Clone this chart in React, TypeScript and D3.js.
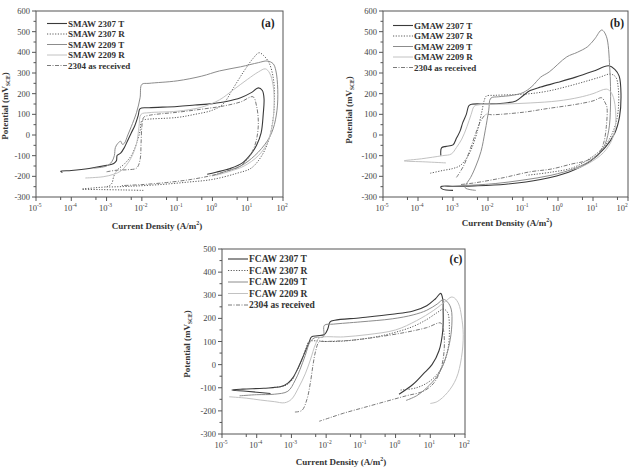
import React from "react";
import * as d3 from "d3";

type Pt = [number, number]; // [current density A/m2, potential mV]

// ---- (a) SMAW ----
const smaw2307T: Pt[] = [
  [5.6e-5, -182], [5e-5, -176], [1e-4, -172], [3.2e-4, -162], [1e-3, -147], [1.6e-3, -138],
  [1.9e-3, -125], [2e-3, -98], [2.5e-3, -88], [3.2e-3, -60], [4e-3, -25], [5e-3, 10],
  [6.3e-3, 45], [7.9e-3, 95], [8.9e-3, 128], [1.6e-2, 132], [0.1, 138], [0.32, 145],
  [1, 152], [2.5, 162], [6.3, 180], [12.6, 205], [20, 228], [26, 215], [29, 175],
  [27.5, 100], [24, 10], [17.8, -50], [12.6, -90], [7.1, -135], [3.2, -162], [1.26, -180], [0.71, -190],
];
const smaw2307R: Pt[] = [
  [1.1e-2, -268], [3.2e-3, -266], [6.3e-4, -264], [2e-4, -262], [5e-4, -255], [1.1e-3, -248],
  [1.4e-3, -235], [1.6e-3, -200], [2e-3, -170], [3.2e-3, -140], [5e-3, -100], [7.1e-3, -40],
  [8.9e-3, 20], [1e-2, 70], [1.26e-2, 75], [0.1, 85], [0.32, 100], [1, 120], [2, 150],
  [4, 230], [7.9, 310], [14.1, 370], [21, 398], [28, 385], [40, 350], [52.5, 280],
  [57.5, 180], [52.5, 80], [40, -20], [25, -100], [12.6, -160], [5, -185], [1, -215],
  [0.2, -228], [3.2e-2, -240], [5e-3, -248], [1e-3, -252],
];
const smaw2209T: Pt[] = [
  [4.5e-4, -160], [1e-3, -150], [1.4e-3, -130], [1.66e-3, -100], [1.78e-3, -60], [2.1e-3, -40],
  [2.5e-3, -30], [2.8e-3, -45], [3.2e-3, -40], [4e-3, 0], [5e-3, 40], [7.1e-3, 110],
  [8.9e-3, 180], [1e-2, 245], [1.6e-2, 250], [0.1, 262], [0.5, 285], [1.58, 310], [6.3, 330],
  [20, 350], [35.5, 358], [52.5, 345], [63, 310], [71, 220], [67.6, 120], [52.5, 30],
  [35.5, -30], [15.8, -100], [6.3, -150], [2, -180], [1, -198],
];
const smaw2209R: Pt[] = [
  [2.5e-4, -208], [8e-4, -202], [1.6e-3, -190], [2.5e-3, -175], [3.5e-3, -150], [5e-3, -110],
  [7.1e-3, -40], [8.3e-3, 40], [9.5e-3, 100], [1.6e-2, 108], [0.1, 115], [0.5, 135],
  [1.58, 170], [4, 220], [10, 270], [20, 305], [31.6, 320], [41.7, 300], [52.5, 240],
  [56, 150], [50, 50], [35.5, -40], [20, -100], [7.9, -150], [3.2, -175], [1.26, -195],
];
const smaw2304: Pt[] = [
  [1e-3, -178], [2e-3, -170], [4e-3, -168], [7.1e-3, -160], [8.9e-3, -120], [9.5e-3, -40],
  [1e-2, 40], [1.12e-2, 85], [1.6e-2, 95], [0.1, 110], [0.5, 125], [2, 140], [6.3, 160],
  [14.1, 185], [17.8, 140], [20, 60], [17.8, -20], [12.6, -90], [6.3, -150], [2.5, -175],
  [1, -195], [0.25, -215], [5e-2, -230], [1e-2, -240], [2.5e-3, -245],
];

// ---- (b) GMAW ----
const gmaw2307T: Pt[] = [
  [4.5e-4, -100], [4.7e-4, -62], [6.3e-4, -55], [1e-3, -48], [1.26e-3, -15], [1.6e-3, 20],
  [1.9e-3, 60], [2.4e-3, 100], [2.8e-3, 140], [3.2e-3, 148], [1e-2, 150], [3.2e-2, 155],
  [6.3e-2, 165], [0.1, 190], [0.16, 215], [0.32, 232], [1, 255], [3.2, 280], [10, 308],
  [28, 335], [42, 318], [56, 285], [63, 200], [57.5, 90], [42, 10], [22.4, -60], [7.9, -130],
  [2, -180], [0.32, -215], [3.2e-2, -238], [4e-3, -246], [1e-3, -248], [4.5e-4, -250],
  [5e-4, -262], [1e-3, -268],
];
const gmaw2307R: Pt[] = [
  [2.24e-4, -185], [5e-4, -172], [1e-3, -162], [1.6e-3, -148], [2.5e-3, -110], [3.5e-3, -60],
  [5e-3, 20], [6.6e-3, 110], [7.9e-3, 170], [8.9e-3, 188], [1.6e-2, 192], [5e-2, 195],
  [0.16, 200], [0.5, 212], [1.58, 232], [5, 255], [15.8, 280], [31.6, 295], [44.7, 280],
  [52.5, 230], [52.5, 120], [40, 30], [22.4, -50], [7.9, -115], [2.5, -160], [0.63, -180], [0.126, -195],
];
const gmaw2209T: Pt[] = [
  [4.5e-3, -268], [2.24e-3, -256], [2.4e-3, -238], [3.2e-3, -205], [4.5e-3, -150], [6.3e-3, -80],
  [8.3e-3, 20], [1.05e-2, 120], [1.2e-2, 178], [2e-2, 185], [5e-2, 192], [0.1, 205],
  [0.18, 235], [0.32, 280], [0.56, 305], [1.78, 378], [3.55, 400], [7.1, 428], [11.2, 465],
  [17.8, 508], [24, 478], [30, 330], [31.6, 140], [28, 20], [20, -60], [10, -115], [3.2, -160],
  [0.63, -195], [0.1, -218], [1.6e-2, -235], [3.2e-3, -243], [1.78e-3, -245],
];
const gmaw2209R: Pt[] = [
  [6.3e-4, -135], [1.6e-4, -130], [4e-5, -125], [1.26e-4, -115], [5e-4, -100], [8.9e-4, -92],
  [1.26e-3, -60], [1.78e-3, -20], [2.5e-3, 40], [3.3e-3, 100], [4e-3, 138], [5e-3, 145],
  [3.2e-2, 150], [0.16, 155], [1, 165], [4, 182], [10, 200], [24, 222], [31.6, 210],
  [40, 170], [44.7, 60], [35.5, -20], [20, -85], [7.9, -135], [3.2, -165],
];
const gmaw2304: Pt[] = [
  [1.26e-3, -205], [2e-3, -150], [3e-3, -75], [4.5e-3, 10], [6.3e-3, 70], [8.9e-3, 100],
  [1.26e-2, 98], [0.1, 110], [0.5, 128], [3.2, 148], [10, 165], [17.8, 180], [22.4, 155],
  [25, 135], [24, 40], [20, -40], [14.1, -92], [6.3, -125], [2.5, -140], [0.63, -165],
  [0.16, -178], [2.5e-2, -208], [4e-3, -232], [1.6e-3, -240],
];

// ---- (c) FCAW ----
const fcaw2307T: Pt[] = [
  [2.5e-4, -125], [5e-5, -115], [1.9e-5, -110], [4e-5, -106], [1.6e-4, -102], [5e-4, -95],
  [7.9e-4, -80], [1.12e-3, -55], [1.6e-3, -10], [2.24e-3, 40], [3.2e-3, 95], [3.8e-3, 120],
  [5.6e-3, 125], [8.9e-3, 130], [1.12e-2, 155], [1.3e-2, 185], [1.78e-2, 192], [0.1, 203],
  [0.8, 218], [3.2, 232], [7.9, 255], [14.1, 285], [20, 308], [23, 280], [23.4, 240],
  [23, 150], [17.8, 60], [11.2, 0], [6.3, -40], [3.2, -85], [1.26, -128],
];
const fcaw2307R: Pt[] = [
  [3.2e-4, -98], [6.3e-4, -92], [1e-3, -70], [1.4e-3, -30], [2e-3, 20], [2.6e-3, 70],
  [3.2e-3, 100], [5e-3, 103], [1e-2, 100], [3.2e-2, 102], [0.1, 110], [0.32, 122], [1, 140],
  [3.2, 165], [7.9, 195], [15.8, 225], [24, 240], [31.6, 225], [35.5, 150], [31.6, 60],
  [20, -20], [10, -70], [4, -100], [1.4, -110],
];
const fcaw2209T: Pt[] = [
  [3.2e-5, -135], [1e-4, -130], [3.2e-4, -128], [7.9e-4, -115], [1.26e-3, -70], [1.78e-3, -20],
  [2.5e-3, 40], [3.5e-3, 100], [5e-3, 118], [8.3e-3, 120], [8.9e-3, 170], [1.6e-2, 175],
  [0.1, 185], [0.8, 198], [3.2, 215], [7.9, 235], [15.8, 262], [24, 282], [31.6, 270],
  [40, 240], [41.7, 170], [35.5, 90], [25, 10], [15.8, -50], [7.9, -100], [4, -135], [2, -155],
];
const fcaw2209R: Pt[] = [
  [1.6e-5, -139], [5e-5, -145], [1.26e-4, -153], [3.2e-4, -160], [6.3e-4, -165], [1e-3, -150],
  [1.6e-3, -100], [2.5e-3, -40], [3.5e-3, 20], [5e-3, 90], [6.3e-3, 115], [3.2e-2, 120],
  [0.16, 130], [1, 150], [4, 190], [12.6, 235], [28, 275], [40, 292], [50, 288],
  [66, 262], [79, 210], [89, 130], [79, 30], [56, -60], [31.6, -120], [15.8, -160], [10, -168],
];
const fcaw2304: Pt[] = [
  [1.26e-3, -205], [2e-3, -198], [2.8e-3, -150], [3.5e-3, -80], [4.2e-3, 0], [5e-3, 60],
  [6.3e-3, 98], [1e-2, 100], [5e-2, 105], [0.32, 120], [2, 140], [7.9, 160], [20, 180],
  [24, 150], [25, 60], [20, -20], [12.6, -80], [6.3, -115], [2, -135], [0.5, -160],
  [0.126, -185], [3.2e-2, -210], [1.26e-2, -230], [6.3e-3, -245],
];

const labelsA = ["SMAW 2307 T", "SMAW 2307 R", "SMAW 2209 T", "SMAW 2209 R", "2304 as received"];
const labelsB = ["GMAW 2307 T", "GMAW 2307 R", "GMAW 2209 T", "GMAW 2209 R", "2304 as received"];
const labelsC = ["FCAW 2307 T", "FCAW 2307 R", "FCAW 2209 T", "FCAW 2209 R", "2304 as received"];

const styles = [
  { stroke: "#3a3a3a", dash: undefined as string | undefined, w: 1.1 },
  { stroke: "#5a5a5a", dash: "1.2,1.5", w: 1 },
  { stroke: "#8c8c8c", dash: undefined, w: 1 },
  { stroke: "#c2c2c2", dash: undefined, w: 1 },
  { stroke: "#7a7a7a", dash: "4,1.5,1,1.5", w: 1 },
];

const serif = "'Liberation Serif', 'DejaVu Serif', serif";
const W = 631;

interface PanelProps {
  id: string;
  left: number;
  right: number;
  top: number;
  bottom: number;
  yMax: number;
  series: Pt[][];
  labels: string[];
  letter: string;
  letterX: number;
  letterY: number;
  legX: number;
  legY: number;
  legStep: number;
  legSize: number;
  xTitleX: number;
  xTitleY: number;
  yTitleX: number;
  yTitleY: number;
}

function Panel(p: PanelProps) {
  const x = d3.scaleLog().domain([1e-5, 100]).range([p.left, p.right]);
  const y = d3.scaleLinear().domain([-300, p.yMax]).range([p.bottom, p.top]);
  const line = d3
    .line<Pt>()
    .x((d) => x(d[0]))
    .y((d) => y(d[1]))
    .curve(d3.curveCatmullRom.alpha(0.5));

  const allX = x.ticks();
  const majorX = allX.filter((v) => Math.abs(Math.log10(v) - Math.round(Math.log10(v))) < 1e-6);
  const minorX = allX.filter((v) => {
    const m = v / Math.pow(10, Math.floor(Math.log10(v) + 1e-9));
    return Math.abs(m - 5) < 1e-6;
  });
  const majorY = d3.range(-300, p.yMax + 1, 100);
  const minorY = d3.range(-250, p.yMax, 100);

  return (
    <g>
      <defs>
        <clipPath id={`clip-${p.id}`}>
          <rect x={p.left} y={p.top} width={p.right - p.left} height={p.bottom - p.top} />
        </clipPath>
      </defs>
      <rect x={p.left} y={p.top} width={p.right - p.left} height={p.bottom - p.top} fill="none" stroke="#555" strokeWidth={1} />
      {majorX.map((v) => (
        <g key={`mx${v}`}>
          <line x1={x(v)} x2={x(v)} y1={p.bottom} y2={p.bottom + 4} stroke="#555" />
          <text
            x={Math.min(x(v) - 1, W - 9)}
            y={p.bottom + 14}
            fontSize={8.5}
            fill="#444"
            fontFamily={serif}
            textAnchor="middle"
          >
            10
            <tspan fontSize={5.5} dy={-4}>
              {Math.round(Math.log10(v))}
            </tspan>
          </text>
        </g>
      ))}
      {minorX.map((v) => (
        <line key={`nx${v}`} x1={x(v)} x2={x(v)} y1={p.bottom} y2={p.bottom + 3} stroke="#555" />
      ))}
      {majorY.map((v) => (
        <g key={`my${v}`}>
          <line x1={p.left - 4} x2={p.left} y1={y(v)} y2={y(v)} stroke="#555" />
          <text x={p.left - 6} y={y(v) + 3} fontSize={8.5} fill="#444" fontFamily={serif} textAnchor="end">
            {v}
          </text>
        </g>
      ))}
      {minorY.map((v) => (
        <line key={`ny${v}`} x1={p.left - 2.5} x2={p.left} y1={y(v)} y2={y(v)} stroke="#555" />
      ))}
      <g clipPath={`url(#clip-${p.id})`}>
        {p.series.map((s, i) => (
          <path
            key={i}
            d={line(s) || ""}
            fill="none"
            stroke={styles[i].stroke}
            strokeWidth={styles[i].w}
            strokeDasharray={styles[i].dash}
          />
        ))}
      </g>
      {p.labels.map((lab, i) => {
        const ly = p.legY + i * p.legStep;
        return (
          <g key={lab}>
            <line
              x1={p.legX}
              x2={p.legX + 20}
              y1={ly - 3}
              y2={ly - 3}
              stroke={styles[i].stroke}
              strokeWidth={styles[i].w}
              strokeDasharray={styles[i].dash}
            />
            <text x={p.legX + 21} y={ly} fontSize={p.legSize} fontWeight="bold" fill="#333" fontFamily={serif}>
              {lab}
            </text>
          </g>
        );
      })}
      <text x={p.letterX} y={p.letterY} fontSize={11.5} fontWeight="bold" fill="#222" fontFamily={serif} textAnchor="middle">
        {p.letter}
      </text>
      <text x={p.xTitleX} y={p.xTitleY} fontSize={9} fontWeight="bold" fill="#333" fontFamily={serif} textAnchor="middle">
        Current Density (A/m
        <tspan fontSize={6} dy={-4}>2</tspan>
        <tspan dy={4}>)</tspan>
      </text>
      <text
        transform={`translate(${p.yTitleX},${p.yTitleY}) rotate(-90)`}
        fontSize={9}
        fontWeight="bold"
        fill="#333"
        fontFamily={serif}
        textAnchor="middle"
      >
        Potential (mV
        <tspan fontSize={5.5} dy={2}>SCE</tspan>
        <tspan dy={-2}>)</tspan>
      </text>
    </g>
  );
}

export default function App() {
  return (
    <svg
      width={631}
      height={468}
      viewBox="0 0 631 468"
      style={{ position: "absolute", left: 0, top: 0, background: "#fff" }}
    >
      <Panel
        id="a"
        left={36}
        right={283}
        top={11}
        bottom={197}
        yMax={600}
        series={[smaw2307T, smaw2307R, smaw2209T, smaw2209R, smaw2304]}
        labels={labelsA}
        letter="(a)"
        letterX={268}
        letterY={27}
        legX={47}
        legY={26.5}
        legStep={10.5}
        legSize={9}
        xTitleX={157}
        xTitleY={229}
        yTitleX={8}
        yTitleY={106}
      />
      <Panel
        id="b"
        left={383}
        right={628}
        top={11}
        bottom={197}
        yMax={600}
        series={[gmaw2307T, gmaw2307R, gmaw2209T, gmaw2209R, gmaw2304]}
        labels={labelsB}
        letter="(b)"
        letterX={617}
        letterY={27}
        legX={393}
        legY={28.5}
        legStep={10.5}
        legSize={9}
        xTitleX={507}
        xTitleY={226}
        yTitleX={352}
        yTitleY={110}
      />
      <Panel
        id="c"
        left={222}
        right={465}
        top={249}
        bottom={434}
        yMax={500}
        series={[fcaw2307T, fcaw2307R, fcaw2209T, fcaw2209R, fcaw2304]}
        labels={labelsC}
        letter="(c)"
        letterX={456}
        letterY={263}
        legX={228}
        legY={262}
        legStep={11.5}
        legSize={9.5}
        xTitleX={341}
        xTitleY={465}
        yTitleX={190}
        yTitleY={344}
      />
    </svg>
  );
}
